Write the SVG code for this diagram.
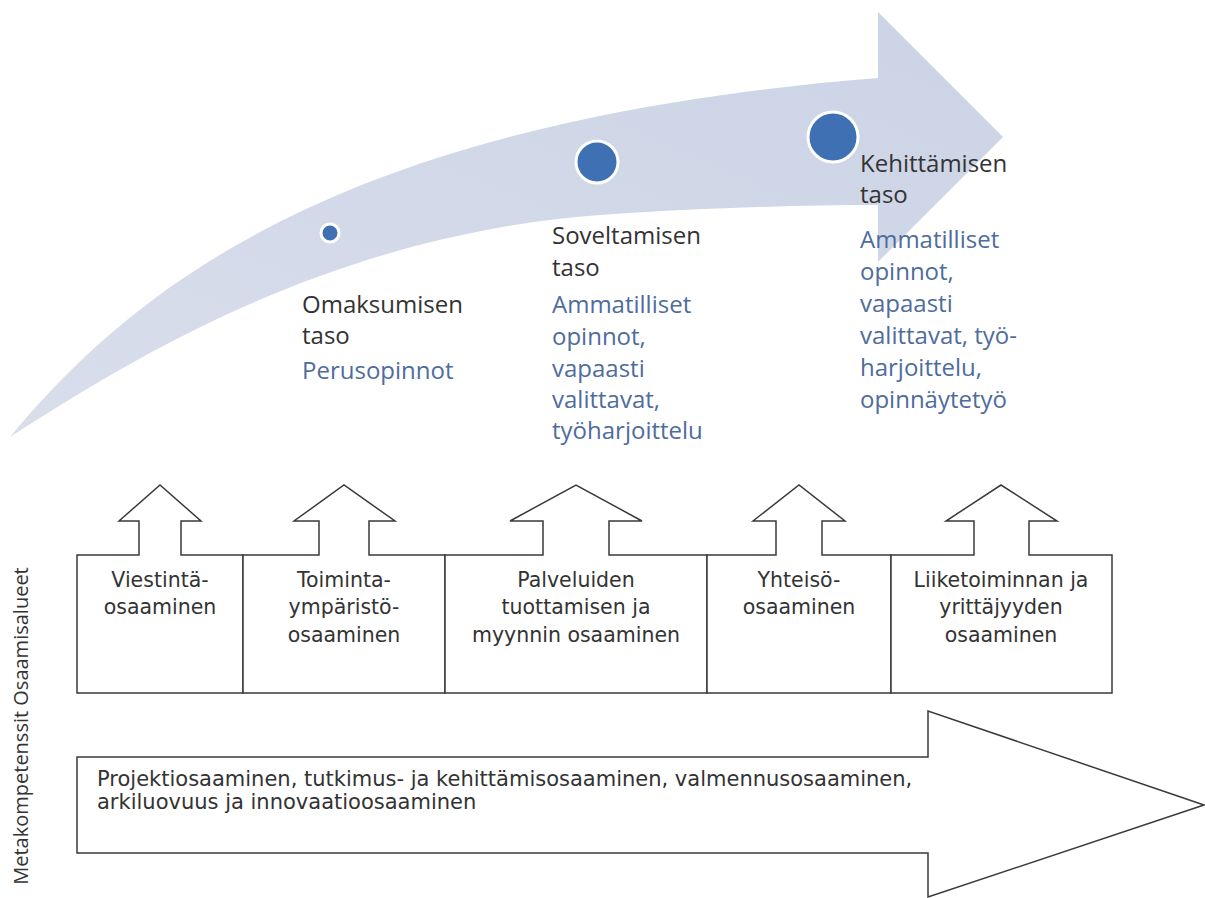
<svg xmlns="http://www.w3.org/2000/svg" width="1205" height="898" viewBox="0 0 1205 898">
<defs>
<linearGradient id="arrowFill" x1="0" y1="1" x2="1" y2="0">
<stop offset="0" stop-color="#d9deeb"/>
<stop offset="1" stop-color="#cbd3e5"/>
</linearGradient>
</defs>
<style>
.h{font-family:"Open Sans","Noto Sans",sans-serif;font-size:24px;fill:#333333}
.b{font-family:"Open Sans","Noto Sans",sans-serif;font-size:24px;fill:#4f6c9c}
.dot{fill:#3f70b4;stroke:#ffffff;stroke-width:3}
.box{fill:#ffffff;stroke:#3a3a3a;stroke-width:1.5;stroke-linejoin:miter}
.t{font-family:"DejaVu Sans","Liberation Sans",sans-serif;font-size:20.5px;fill:#333333;text-anchor:middle}
.tl{font-family:"DejaVu Sans","Liberation Sans",sans-serif;font-size:21px;fill:#333333}
.v{font-family:"Open Sans","Noto Sans",sans-serif;font-size:20px;fill:#333333;text-anchor:middle}
</style>
<rect width="1205" height="898" fill="#ffffff"/>

<g id="progress-arrow">
<path fill="url(#arrowFill)" d="M10,437 C140,280 350,120 878,78 L878,12 L1003,137 L878,262 L878,205 C800,205 700,208 600,215 C330,235 130,360 10,437 Z"/>
</g>

<g id="level-1">
<circle class="dot" cx="330" cy="233" r="9"/>
<text class="h" x="302" y="313">Omaksumisen</text>
<text class="h" x="302" y="344">taso</text>
<text class="b" x="302" y="379">Perusopinnot</text>
</g>

<g id="level-2">
<circle class="dot" cx="597" cy="162" r="21"/>
<text class="h" x="552" y="244">Soveltamisen</text>
<text class="h" x="552" y="276">taso</text>
<text class="b" x="552" y="313">Ammatilliset</text>
<text class="b" x="552" y="345">opinnot,</text>
<text class="b" x="552" y="377">vapaasti</text>
<text class="b" x="552" y="408">valittavat,</text>
<text class="b" x="552" y="439">työharjoittelu</text>
</g>

<g id="level-3">
<circle class="dot" cx="833" cy="137" r="25"/>
<text class="h" x="860" y="172">Kehittämisen</text>
<text class="h" x="860" y="203">taso</text>
<text class="b" x="860" y="248">Ammatilliset</text>
<text class="b" x="860" y="280">opinnot,</text>
<text class="b" x="860" y="312">vapaasti</text>
<text class="b" x="860" y="344">valittavat, työ-</text>
<text class="b" x="860" y="376">harjoittelu,</text>
<text class="b" x="860" y="408">opinnäytetyö</text>
</g>

<g id="side-label">
<text class="v" transform="translate(28,726) rotate(-90)">Metakompetenssit  Osaamisalueet</text>
</g>

<g id="area-viestinta">
<path class="box" d="M77,693 L77,555 L139,555 L139,521 L119,521 L160,485 L201,521 L181,521 L181,555 L243,555 L243,693 Z"/>
<text class="t" x="160" y="587">Viestintä-</text>
<text class="t" x="160" y="614">osaaminen</text>
</g>

<g id="area-toimintaymparisto">
<path class="box" d="M243,693 L243,555 L319,555 L319,521 L294,521 L344,485 L395,521 L369,521 L369,555 L445,555 L445,693 Z"/>
<text class="t" x="344" y="587">Toiminta-</text>
<text class="t" x="344" y="614">ympäristö-</text>
<text class="t" x="344" y="642">osaaminen</text>
</g>

<g id="area-palvelut">
<path class="box" d="M445,693 L445,555 L543,555 L543,521 L510,521 L576,485 L642,521 L609,521 L609,555 L707,555 L707,693 Z"/>
<text class="t" x="576" y="587">Palveluiden</text>
<text class="t" x="576" y="614">tuottamisen ja</text>
<text class="t" x="576" y="642">myynnin osaaminen</text>
</g>

<g id="area-yhteiso">
<path class="box" d="M707,693 L707,555 L776,555 L776,521 L753,521 L799,485 L845,521 L822,521 L822,555 L891,555 L891,693 Z"/>
<text class="t" x="799" y="587">Yhteisö-</text>
<text class="t" x="799" y="614">osaaminen</text>
</g>

<g id="area-liiketoiminta">
<path class="box" d="M891,693 L891,555 L974,555 L974,521 L946,521 L1001,485 L1057,521 L1029,521 L1029,555 L1112,555 L1112,693 Z"/>
<text class="t" x="1001" y="587">Liiketoiminnan ja</text>
<text class="t" x="1001" y="614">yrittäjyyden</text>
<text class="t" x="1001" y="642">osaaminen</text>
</g>

<g id="metacompetences">
<path class="box" d="M77,757 L928,757 L928,711 L1204,805 L928,897 L928,853 L77,853 Z"/>
<text class="tl" x="97" y="786">Projektiosaaminen, tutkimus- ja kehittämisosaaminen, valmennusosaaminen,</text>
<text class="tl" x="97" y="809">arkiluovuus ja innovaatioosaaminen</text>
</g>
</svg>
